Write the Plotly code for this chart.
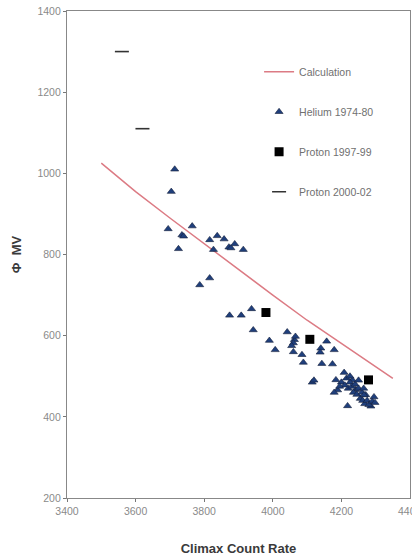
import plotly.graph_objects as go

# Calculated modulation potential vs Climax neutron monitor rate
calc_x = [3500, 3600, 3700, 3800, 3900, 4000, 4100, 4200, 4300, 4350]
calc_y = [1025, 955, 890, 826, 763, 700, 638, 580, 523, 495]

# Helium 1974-80
he_x = [3714, 3704, 3695, 3735, 3740, 3765, 3725, 3816, 3838, 3858, 3827, 3872,
        3889, 3878, 3914, 3816, 3787,
        3874, 3908, 3938, 3943, 3990, 4007, 4042, 4063, 4066, 4060, 4055, 4060,
        4085, 4089, 4140, 4138, 4157, 4179, 4143, 4174, 4115, 4120,
        4208, 4184, 4189, 4179, 4218, 4232, 4242, 4271, 4295, 4286,
        4200, 4210, 4220, 4225, 4230, 4235, 4240, 4245, 4250, 4255, 4260, 4262,
        4268, 4275, 4280, 4290, 4298, 4215, 4225, 4250, 4195, 4266, 4265]
he_y = [1010, 955, 863, 848, 845, 870, 814, 836, 846, 838, 812, 818,
        826, 816, 812, 742, 725,
        650, 650, 666, 614, 588, 565, 609, 590, 598, 582, 575, 560,
        553, 534, 569, 559, 586, 565, 531, 530, 485, 490,
        509, 491, 466, 460, 427, 491, 467, 454, 449, 426,
        485, 478, 470, 485, 475, 460, 480, 455, 470, 445, 460, 440,
        432, 440, 430, 438, 435, 495, 500, 490, 475, 454, 470]

# Proton 1997-99
p1_x = [3980, 4108, 4279]
p1_y = [657, 591, 491]

# Proton 2000-02
p2_x = [3560, 3620]
p2_y = [1300, 1110]

x_ticks = [3400, 3600, 3800, 4000, 4200, 4400]
y_ticks = [200, 400, 600, 800, 1000, 1200, 1400]

tick_font = dict(family="Liberation Sans, Arial", size=10.5, color="#8a8a8a")

fig = go.Figure()
fig.add_trace(go.Scatter(
    x=calc_x, y=calc_y, mode="lines", name="Calculation",
    line=dict(color="#dc7b84", width=1.5), legendgroup="a"))
fig.add_trace(go.Scatter(
    x=he_x, y=he_y, mode="markers", name="Helium 1974-80",
    marker=dict(symbol="triangle-up", size=7, color="#1f3f7c",
                line=dict(color="#15203a", width=0.6)), legendgroup="b"))
fig.add_trace(go.Scatter(
    x=p1_x, y=p1_y, mode="markers", name="Proton 1997-99",
    marker=dict(symbol="square", size=9, color="#000000"), legendgroup="c"))
fig.add_trace(go.Scatter(
    x=p2_x, y=p2_y, mode="markers", name="Proton 2000-02",
    marker=dict(symbol="line-ew", size=10, color="#333333",
                line=dict(color="#333333", width=1.6)), legendgroup="d"))

axis_common = dict(
    showgrid=False, zeroline=False, showline=True, linecolor="#888888",
    linewidth=1.2, mirror=True, ticks="outside", ticklen=3,
    tickcolor="#777777", tickfont=tick_font)

# last x tick label sits on the right edge of the page and is partly cut off
fig.update_xaxes(range=[3400, 4400], tickvals=x_ticks[:-1],
                 title=dict(text="<b>Climax Count Rate</b>", standoff=28,
                            font=dict(family="Liberation Sans, Arial", size=13,
                                      color="#3a3a3a")),
                 **axis_common)
fig.add_annotation(x=x_ticks[-1], y=0, xref="x", yref="paper",
                   text=str(x_ticks[-1]), showarrow=False, yanchor="top",
                   yshift=-5, font=tick_font)
fig.update_yaxes(range=[200, 1400], tickvals=y_ticks,
                 title=dict(text="<b>Φ  MV</b>", standoff=12,
                            font=dict(family="Liberation Sans, Arial", size=13,
                                      color="#3a3a3a")),
                 **axis_common)

fig.update_layout(
    width=412, height=560,
    margin=dict(l=67, r=2, t=11, b=62),
    paper_bgcolor="white", plot_bgcolor="white",
    showlegend=True,
    legend=dict(x=0.56, y=0.905, xanchor="left", yanchor="top",
                bgcolor="rgba(0,0,0,0)", tracegroupgap=21, itemwidth=30,
                font=dict(family="Liberation Sans, Arial", size=10.5,
                          color="#707070")),
)

fig.write_html("out.html")
